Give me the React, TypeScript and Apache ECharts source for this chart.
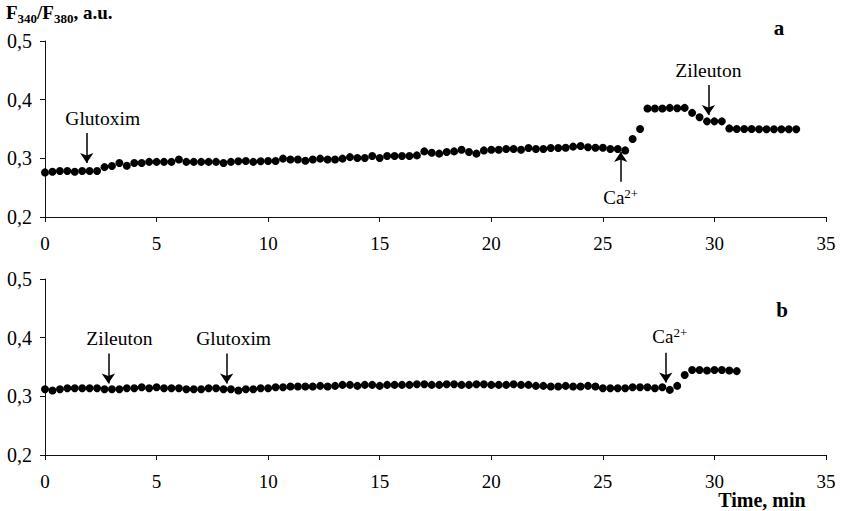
import React, { useEffect, useRef } from "react";
import * as echarts from "echarts";

const FONT = "Liberation Serif, Times New Roman, serif";

// Sampling interval of the recordings (one point every 20 s)
const SAMPLE_INTERVAL_MIN = 1 / 3;

// Axis ranges
const X_MIN = 0;
const X_MAX = 35;
const X_STEP = 5;
const Y_MIN = 0.2;
const Y_MAX = 0.5;
const Y_STEP = 0.1;

// Panel a: F340/F380 ratio
const ratioA = [
  0.276, 0.277, 0.2785, 0.2785, 0.277, 0.2785, 0.2785, 0.2785, 0.285, 0.287,
  0.292, 0.2875, 0.292, 0.292, 0.294, 0.294, 0.294, 0.294, 0.298, 0.294,
  0.294, 0.294, 0.294, 0.294, 0.292, 0.294, 0.295, 0.2955, 0.294, 0.295,
  0.2955, 0.2955, 0.2995, 0.298, 0.298, 0.296, 0.298, 0.2995, 0.298, 0.298,
  0.2995, 0.302, 0.3005, 0.3005, 0.304, 0.3005, 0.304, 0.304, 0.304, 0.304,
  0.305, 0.3118, 0.3095, 0.308, 0.3107, 0.3118, 0.3147, 0.3107, 0.308, 0.3135,
  0.3147, 0.3147, 0.316, 0.316, 0.3147, 0.3175, 0.316, 0.316, 0.3175, 0.3175,
  0.318, 0.32, 0.321, 0.319, 0.318, 0.318, 0.316, 0.316, 0.3135, 0.333,
  0.35, 0.385, 0.385, 0.385, 0.386, 0.3855, 0.386, 0.3775, 0.37, 0.363,
  0.363, 0.363, 0.351, 0.35, 0.35, 0.35, 0.3495, 0.3495, 0.3495, 0.3495,
  0.3495, 0.3495,
];

// Panel b: F340/F380 ratio
const ratioB = [
  0.3122, 0.3099, 0.3122, 0.3139, 0.3139, 0.3139, 0.3139, 0.3139, 0.3122, 0.3122,
  0.3122, 0.3139, 0.3139, 0.3155, 0.3139, 0.3155, 0.3139, 0.3139, 0.3139, 0.3122,
  0.3122, 0.3122, 0.3139, 0.3139, 0.3122, 0.3122, 0.3099, 0.3122, 0.3122, 0.3139,
  0.3139, 0.3155, 0.3155, 0.3167, 0.3167, 0.3167, 0.3167, 0.3178, 0.3167, 0.3178,
  0.3195, 0.3195, 0.3178, 0.3195, 0.3195, 0.3178, 0.3195, 0.3195,
  0.3195, 0.3195, 0.3206, 0.3206, 0.3195, 0.3195, 0.3206, 0.3206, 0.3195, 0.3195,
  0.3206, 0.3206, 0.3195,
  0.3195, 0.3195, 0.3206, 0.3195, 0.3195, 0.3178, 0.3178, 0.3167, 0.3167, 0.3178,
  0.3167, 0.3167,
  0.3178, 0.3167, 0.3139, 0.3139, 0.3139, 0.3139, 0.3155, 0.3155, 0.3155, 0.3139,
  0.3155, 0.311,
  0.3178, 0.3365,
  0.345, 0.345, 0.3439, 0.345, 0.345, 0.3439, 0.343,
];

// Arrow annotations: time of addition, arrow start and end (ratio units)
const annotationsA = [
  { name: "Glutoxim", time: 1.87, from: 0.343, to: 0.292 },
  { name: "Zileuton", time: 29.73, from: 0.425, to: 0.374 },
  { name: "Ca2+", time: 25.8, from: 0.26, to: 0.311 },
];
const annotationsB = [
  { name: "Zileuton", time: 2.84, from: 0.373, to: 0.322 },
  { name: "Glutoxim", time: 8.14, from: 0.373, to: 0.322 },
  { name: "Ca2+", time: 27.82, from: 0.3745, to: 0.3237 },
];

// Horizontal label shifts (px) relative to the arrow, per panel/annotation
const LABEL_SHIFT_A = [16, 0, 0];
const LABEL_SHIFT_B = [11, 7, 4];

function xAxis(gridIndex: number) {
  return {
    type: "value",
    gridIndex,
    min: X_MIN,
    max: X_MAX,
    interval: X_STEP,
    axisLine: { show: true, onZero: false, lineStyle: { color: "#111", width: 1 } },
    axisTick: { show: true, inside: false, length: 5, lineStyle: { color: "#111" } },
    axisLabel: { fontFamily: FONT, fontSize: 19, color: "#000", margin: 17 },
    splitLine: { show: false },
  };
}

function yAxis(gridIndex: number) {
  return {
    type: "value",
    gridIndex,
    min: Y_MIN,
    max: Y_MAX,
    interval: Y_STEP,
    axisLine: { show: true, onZero: false, lineStyle: { color: "#111", width: 1 } },
    axisTick: { show: true, inside: false, length: 5, lineStyle: { color: "#111" } },
    axisLabel: {
      fontFamily: FONT,
      fontSize: 20,
      color: "#000",
      margin: 13,
      formatter: (v: number) => v.toFixed(1).replace(".", ","),
    },
    splitLine: { show: false },
  };
}

function markLineFor(
  anns: { name: string; time: number; from: number; to: number }[],
  shifts: number[]
) {
  return {
    silent: true,
    symbol: ["none", "arrow"],
    symbolSize: 10,
    lineStyle: { color: "#000", width: 1.5, type: "solid" },
    itemStyle: { color: "#000" },
    emphasis: { disabled: true },
    label: {
      show: true,
      position: "start",
      distance: 5,
      fontFamily: FONT,
      fontSize: 19.5,
      color: "#000",
      formatter: (p: any) => (p.name === "Ca2+" ? "{n|Ca}{s|2+}" : p.name),
      rich: {
        n: { fontFamily: FONT, fontSize: 19, color: "#000", lineHeight: 22, verticalAlign: "middle" },
        s: { fontFamily: FONT, fontSize: 13, color: "#000", lineHeight: 14, verticalAlign: "top" },
      },
    },
    data: anns.map((a, i) => [
      {
        name: a.name,
        coord: [a.time, a.from],
        label: { padding: [0, 0, 0, 2 * (shifts[i] || 0)] },
      },
      { coord: [a.time, a.to] },
    ]),
  };
}

function scatterSeries(values: number[], idx: number, anns: any[], shifts: number[]) {
  return {
    type: "scatter",
    xAxisIndex: idx,
    yAxisIndex: idx,
    symbol: "circle",
    symbolSize: 8,
    itemStyle: { color: "#000", opacity: 1 },
    silent: true,
    data: values.map((v, i) => [i * SAMPLE_INTERVAL_MIN, v]),
    markLine: markLineFor(anns, shifts),
  };
}

export default function App() {
  const ref = useRef<HTMLDivElement>(null);

  useEffect(() => {
    if (!ref.current) return;
    const chart = echarts.init(ref.current, null, { renderer: "svg" });
    chart.setOption({
      animation: false,
      backgroundColor: "#fff",
      grid: [
        { left: 45, right: 15, top: 41, height: 176 },
        { left: 45, right: 15, top: 279, height: 176 },
      ],
      xAxis: [xAxis(0), xAxis(1)],
      yAxis: [yAxis(0), yAxis(1)],
      series: [
        scatterSeries(ratioA, 0, annotationsA, LABEL_SHIFT_A),
        scatterSeries(ratioB, 1, annotationsB, LABEL_SHIFT_B),
      ],
      graphic: [
        {
          type: "text",
          x: 6,
          y: 3,
          style: {
            text: "{b|F}{s|340}{b|/F}{s|380}{b|, a.u.}",
            rich: {
              b: { fontFamily: FONT, fontSize: 19, fontWeight: "bold", fill: "#000", lineHeight: 22, verticalAlign: "top" },
              s: { fontFamily: FONT, fontSize: 13, fontWeight: "bold", fill: "#000", lineHeight: 22, verticalAlign: "bottom" },
            },
          },
        },
        {
          type: "text",
          x: 779,
          y: 28,
          style: {
            text: "a",
            fontFamily: FONT,
            fontSize: 21,
            fontWeight: "bold",
            fill: "#000",
            textAlign: "center",
            textVerticalAlign: "middle",
          },
        },
        {
          type: "text",
          x: 782,
          y: 310,
          style: {
            text: "b",
            fontFamily: FONT,
            fontSize: 21,
            fontWeight: "bold",
            fill: "#000",
            textAlign: "center",
            textVerticalAlign: "middle",
          },
        },
        {
          type: "text",
          x: 762,
          y: 500,
          style: {
            text: "Time, min",
            fontFamily: FONT,
            fontSize: 20,
            fontWeight: "bold",
            fill: "#000",
            textAlign: "center",
            textVerticalAlign: "middle",
          },
        },
      ],
    });
    return () => chart.dispose();
  }, []);

  return (
    <div
      ref={ref}
      style={{ position: "absolute", left: 0, top: 0, width: 841, height: 511, background: "#fff" }}
    />
  );
}
